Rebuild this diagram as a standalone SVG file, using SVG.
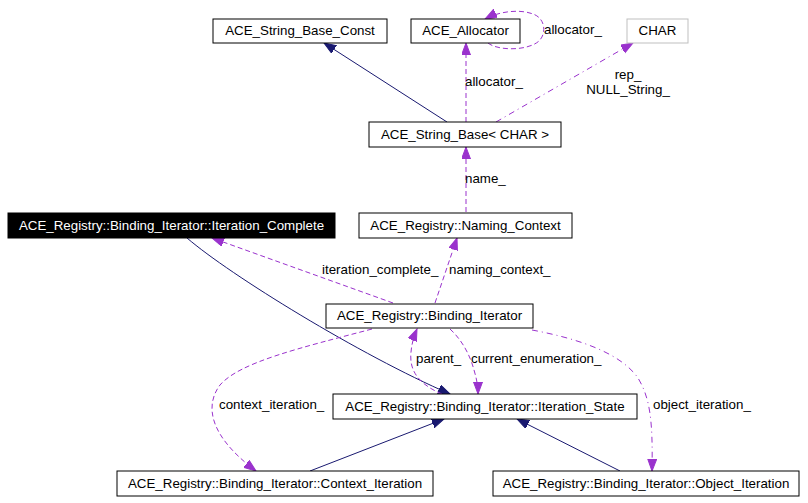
<svg xmlns="http://www.w3.org/2000/svg" width="808" height="503" viewBox="0 0 808 503">
<style>
  text { font-family: "Liberation Sans", Arial, Helvetica, sans-serif; font-size: 13.33px; fill: #000; }
  .node rect { fill: #fff; stroke: #000; stroke-width: 1; }
  .node text { text-anchor: middle; }
  #n_char rect { stroke: #bfbfbf; }
  #n_itercomplete rect { fill: #000; }
  #n_itercomplete text { fill: #fff; }
  .inh { fill: none; stroke: #191970; stroke-width: 1; }
  .use { fill: none; stroke: #9a32cd; stroke-width: 1; stroke-dasharray: 5,3; }
  .usedot { fill: none; stroke: #9a32cd; stroke-width: 1; stroke-dasharray: 6,4,1,4; }
</style>
<defs>
  <marker id="ah-inh" markerUnits="userSpaceOnUse" markerWidth="14" markerHeight="10" refX="12" refY="4.5" orient="auto">
    <path d="M0,0 L12,4.5 L0,9 z" fill="#191970" stroke="#191970"/>
  </marker>
  <marker id="ah-use" markerUnits="userSpaceOnUse" markerWidth="14" markerHeight="10" refX="12" refY="4.5" orient="auto">
    <path d="M0,0 L12,4.5 L0,9 z" fill="#9a32cd" stroke="#9a32cd"/>
  </marker>
</defs>
<rect x="0" y="0" width="808" height="503" fill="#fff"/>

<g id="connectors">
  <path class="inh" d="M447,122 L324,43" marker-end="url(#ah-inh)"/>
  <path class="use" d="M466,122 L466,43" marker-end="url(#ah-use)"/>
  <path class="use" d="M488,43 C498,51 528,51 539,41 C547,33 545,18 533,14 C520,9 500,11 485,19" marker-end="url(#ah-use)"/>
  <path class="usedot" d="M496,122 L633,43" marker-end="url(#ah-use)"/>
  <path class="use" d="M466,212 L466,147" marker-end="url(#ah-use)"/>
  <path class="use" d="M435,303 L457,238" marker-end="url(#ah-use)"/>
  <path class="use" d="M393,303 L212,238" marker-end="url(#ah-use)"/>
  <path class="inh" d="M187,238 C230,275 360,355 450,394" marker-end="url(#ah-inh)"/>
  <path class="inh" d="M310,471 L444,419" marker-end="url(#ah-inh)"/>
  <path class="inh" d="M620,471 L517,419" marker-end="url(#ah-inh)"/>
  <path class="use" d="M442,394 C418,384 409,370 411,352 C412,342 414,336 417,329" marker-end="url(#ah-use)"/>
  <path class="use" d="M450,329 C462,340 470,355 474,370 C477,380 478,387 478,394" marker-end="url(#ah-use)"/>
  <path class="use" d="M372,329 C300,348 240,362 220,385 C205,405 208,435 256,471" marker-end="url(#ah-use)"/>
  <path class="usedot" d="M532,330 C575,338 620,352 638,378 C650,398 653,420 652,471" marker-end="url(#ah-use)"/>

  <text x="465" y="86">allocator_</text>
  <text x="544" y="34">allocator_</text>
  <text x="628" y="79" text-anchor="middle">rep_</text>
  <text x="628" y="94" text-anchor="middle">NULL_String_</text>
  <text x="465" y="183">name_</text>
  <text x="322" y="274">iteration_complete_</text>
  <text x="449" y="274">naming_context_</text>
  <text x="416" y="363">parent_</text>
  <text x="471" y="363">current_enumeration_</text>
  <text x="219" y="409">context_iteration_</text>
  <text x="653" y="409">object_iteration_</text>
</g>

<g id="n_sbconst" class="node"><rect x="213" y="19" width="174" height="24"/><text x="300" y="35">ACE_String_Base_Const</text></g>
<g id="n_alloc" class="node"><rect x="411" y="19" width="109" height="24"/><text x="465.5" y="35">ACE_Allocator</text></g>
<g id="n_char" class="node"><rect x="627" y="19" width="61" height="24"/><text x="657.5" y="35">CHAR</text></g>
<g id="n_sb" class="node"><rect x="369" y="122" width="192" height="25"/><text x="465" y="139">ACE_String_Base&lt; CHAR &gt;</text></g>
<g id="n_itercomplete" class="node"><rect x="8" y="213" width="327" height="25"/><text x="171.5" y="230">ACE_Registry::Binding_Iterator::Iteration_Complete</text></g>
<g id="n_naming" class="node"><rect x="359" y="213" width="213" height="25"/><text x="465.5" y="230">ACE_Registry::Naming_Context</text></g>
<g id="n_bindit" class="node"><rect x="326" y="304" width="207" height="24"/><text x="429.5" y="320">ACE_Registry::Binding_Iterator</text></g>
<g id="n_iterstate" class="node"><rect x="333" y="394" width="304" height="25"/><text x="485" y="411">ACE_Registry::Binding_Iterator::Iteration_State</text></g>
<g id="n_ctxiter" class="node"><rect x="117" y="471" width="316" height="25"/><text x="275" y="488">ACE_Registry::Binding_Iterator::Context_Iteration</text></g>
<g id="n_objiter" class="node"><rect x="493" y="471" width="306" height="25"/><text x="646" y="488">ACE_Registry::Binding_Iterator::Object_Iteration</text></g>
</svg>
